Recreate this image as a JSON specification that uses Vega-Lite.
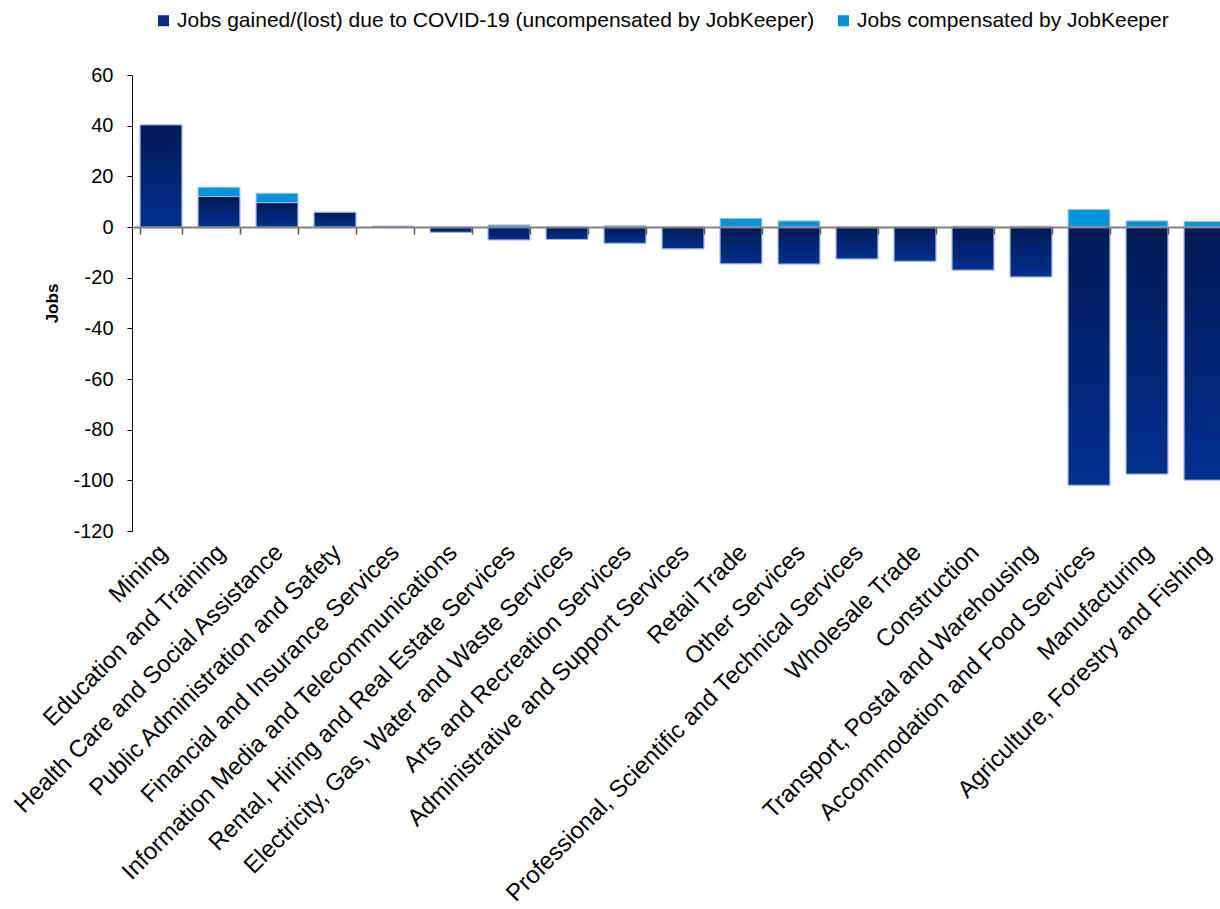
{
  "$schema": "https://vega.github.io/schema/vega-lite/v6.json",
  "width": 1088,
  "height": 456,
  "padding": {"left": 132, "top": 75, "right": 0, "bottom": 378},
  "autosize": {"type": "none"},
  "background": "white",
  "config": {
    "view": {"stroke": null},
    "font": "Liberation Sans",
    "axis": {"grid": false}
  },
  "data": {
    "values": [
      {"industry": "Mining", "series": "Jobs gained/(lost) due to COVID-19 (uncompensated by JobKeeper)", "jobs": 40.3},
      {"industry": "Education and Training", "series": "Jobs gained/(lost) due to COVID-19 (uncompensated by JobKeeper)", "jobs": 12.0},
      {"industry": "Education and Training", "series": "Jobs compensated by JobKeeper", "jobs": 3.7},
      {"industry": "Health Care and Social Assistance", "series": "Jobs gained/(lost) due to COVID-19 (uncompensated by JobKeeper)", "jobs": 9.6},
      {"industry": "Health Care and Social Assistance", "series": "Jobs compensated by JobKeeper", "jobs": 3.7},
      {"industry": "Public Administration and Safety", "series": "Jobs gained/(lost) due to COVID-19 (uncompensated by JobKeeper)", "jobs": 5.8},
      {"industry": "Financial and Insurance Services", "series": "Jobs gained/(lost) due to COVID-19 (uncompensated by JobKeeper)", "jobs": 0.3},
      {"industry": "Information Media and Telecommunications", "series": "Jobs gained/(lost) due to COVID-19 (uncompensated by JobKeeper)", "jobs": -2.1},
      {"industry": "Rental, Hiring and Real Estate Services", "series": "Jobs gained/(lost) due to COVID-19 (uncompensated by JobKeeper)", "jobs": -5.1},
      {"industry": "Rental, Hiring and Real Estate Services", "series": "Jobs compensated by JobKeeper", "jobs": 0.8},
      {"industry": "Electricity, Gas, Water and Waste Services", "series": "Jobs gained/(lost) due to COVID-19 (uncompensated by JobKeeper)", "jobs": -4.9},
      {"industry": "Arts and Recreation Services", "series": "Jobs gained/(lost) due to COVID-19 (uncompensated by JobKeeper)", "jobs": -6.4},
      {"industry": "Arts and Recreation Services", "series": "Jobs compensated by JobKeeper", "jobs": 0.5},
      {"industry": "Administrative and Support Services", "series": "Jobs gained/(lost) due to COVID-19 (uncompensated by JobKeeper)", "jobs": -8.6},
      {"industry": "Retail Trade", "series": "Jobs gained/(lost) due to COVID-19 (uncompensated by JobKeeper)", "jobs": -14.5},
      {"industry": "Retail Trade", "series": "Jobs compensated by JobKeeper", "jobs": 3.4},
      {"industry": "Other Services", "series": "Jobs gained/(lost) due to COVID-19 (uncompensated by JobKeeper)", "jobs": -14.6},
      {"industry": "Other Services", "series": "Jobs compensated by JobKeeper", "jobs": 2.4},
      {"industry": "Professional, Scientific and Technical Services", "series": "Jobs gained/(lost) due to COVID-19 (uncompensated by JobKeeper)", "jobs": -12.6},
      {"industry": "Wholesale Trade", "series": "Jobs gained/(lost) due to COVID-19 (uncompensated by JobKeeper)", "jobs": -13.5},
      {"industry": "Construction", "series": "Jobs gained/(lost) due to COVID-19 (uncompensated by JobKeeper)", "jobs": -17.0},
      {"industry": "Construction", "series": "Jobs compensated by JobKeeper", "jobs": 0.3},
      {"industry": "Transport, Postal and Warehousing", "series": "Jobs gained/(lost) due to COVID-19 (uncompensated by JobKeeper)", "jobs": -19.7},
      {"industry": "Transport, Postal and Warehousing", "series": "Jobs compensated by JobKeeper", "jobs": 0.3},
      {"industry": "Accommodation and Food Services", "series": "Jobs gained/(lost) due to COVID-19 (uncompensated by JobKeeper)", "jobs": -101.9},
      {"industry": "Accommodation and Food Services", "series": "Jobs compensated by JobKeeper", "jobs": 6.9},
      {"industry": "Manufacturing", "series": "Jobs gained/(lost) due to COVID-19 (uncompensated by JobKeeper)", "jobs": -97.5},
      {"industry": "Manufacturing", "series": "Jobs compensated by JobKeeper", "jobs": 2.4},
      {"industry": "Agriculture, Forestry and Fishing", "series": "Jobs gained/(lost) due to COVID-19 (uncompensated by JobKeeper)", "jobs": -99.9},
      {"industry": "Agriculture, Forestry and Fishing", "series": "Jobs compensated by JobKeeper", "jobs": 2.2}
    ]
  },
  "layer": [
    {
      "mark": {"type": "bar", "stroke": "#a9bbe6", "strokeWidth": 1},
      "encoding": {
        "x": {
          "field": "industry", "type": "nominal", "sort": null,
          "scale": {"range": [0, 1102], "paddingInner": 0.28, "paddingOuter": 0.14},
          "axis": {
            "orient": "bottom", "title": null, "labelAngle": -45, "labelFontSize": 24,
            "labelColor": "#000000", "ticks": false, "domain": false, "labelPadding": 9,
            "labelOffset": -6, "labelLimit": 1000
          }
        },
        "y": {
          "field": "jobs", "type": "quantitative", "stack": "zero",
          "scale": {"domain": [-120, 60], "nice": false},
          "axis": {
            "values": [-120, -100, -80, -60, -40, -20, 0, 20, 40, 60],
            "labelExpr": "datum.value < 0 ? '-' + abs(datum.value) : '' + datum.value",
            "title": "Jobs", "titleFontSize": 17, "titleFontWeight": "bold", "titleColor": "#000000",
            "titlePadding": 11, "labelFontSize": 20, "labelColor": "#000000", "labelPadding": 14,
            "domainColor": "#000000", "domainWidth": 1, "tickColor": "#000000", "tickSize": 5
          }
        },
        "color": {
          "field": "series", "type": "nominal",
          "scale": {
            "domain": ["Jobs gained/(lost) due to COVID-19 (uncompensated by JobKeeper)", "Jobs compensated by JobKeeper"],
            "range": ["#0a2a7e", "#0095da"]
          },
          "legend": {
            "orient": "none", "legendX": 21, "legendY": -65, "direction": "horizontal", "title": null,
            "symbolType": "square", "symbolSize": 121, "symbolStrokeWidth": 0, "labelFontSize": 21,
            "labelColor": "#000000", "labelLimit": 1000, "columnPadding": 18, "labelOffset": 3
          }
        },
        "order": {"field": "series", "sort": "descending"}
      }
    },
    {
      "transform": [{"filter": "datum.series !== 'Jobs compensated by JobKeeper'"}],
      "mark": {
        "type": "bar",
        "fill": {
          "gradient": "linear", "x1": 0, "y1": 0, "x2": 0, "y2": 1,
          "stops": [{"offset": 0, "color": "#001a55"}, {"offset": 1, "color": "#00308f"}]
        },
        "stroke": "#a9bbe6", "strokeWidth": 1
      },
      "encoding": {
        "x": {
          "field": "industry", "type": "nominal", "sort": null,
          "scale": {"range": [0, 1102], "paddingInner": 0.28, "paddingOuter": 0.14},
          "axis": {
            "orient": "bottom", "offset": -304, "title": null, "labels": false,
            "domainColor": "#808080", "domainWidth": 2, "tickBand": "extent",
            "tickColor": "#555555", "tickSize": 7, "tickWidth": 1.5, "zindex": 1
          }
        },
        "y": {"field": "jobs", "type": "quantitative", "stack": null}
      }
    }
  ],
  "resolve": {"axis": {"x": "independent"}}
}
